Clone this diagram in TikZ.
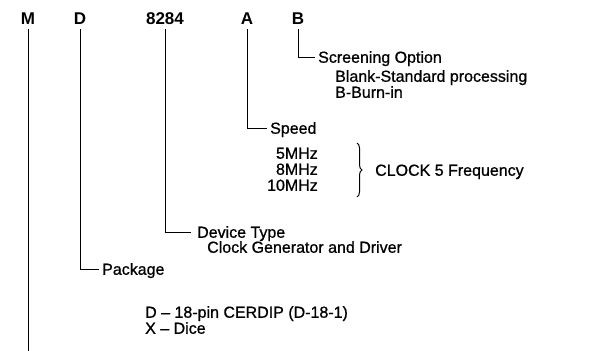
\documentclass[tikz,border=0pt]{standalone}
\usepackage{fontspec}
\setmainfont{Liberation Sans}
\newfontfamily\lblfont[FakeBold=0.8,Ligatures=TeX]{Liberation Sans}
\usetikzlibrary{decorations.pathreplacing}
\begin{document}
\begin{tikzpicture}[x=1pt,y=-1pt,
  code/.style={font=\fontsize{17}{17}\selectfont\bfseries, inner sep=0pt, text height=12pt, text depth=0pt},
  lbl/.style={font=\fontsize{16}{16}\selectfont\lblfont, inner sep=0pt, anchor=west, text height=11.5pt, text depth=0pt},
  lblr/.style={lbl, anchor=east},
  lead/.style={line width=1pt}]
\useasboundingbox[fill=white] (0,0) rectangle (590,351);
% code letters
\node[code] (M) at (28,18) {M};
\node[code] (D) at (80,18) {D};
\node[code] (N) at (165,18) {8284};
\node[code] (A) at (247,18) {A};
\node[code] (B) at (298,18) {B};
% labels
\node[lbl] (scr) at (318,57) {Screening Option};
\node[lbl] (blank) at (335,76) {Blank-Standard processing};
\node[lbl] (burn) at (335,92) {B-Burn-in};
\node[lbl] (spd) at (270,128) {Speed};
\node[lblr] (f5) at (318,153) {5MHz};
\node[lblr] (f8) at (318,169) {8MHz};
\node[lblr] (f10) at (318,185) {10MHz};
\node[lbl] (clk) at (375,170) {CLOCK 5 Frequency};
\node[lbl] (dev) at (197,232) {Device Type};
\node[lbl] (gen) at (207,247) {Clock Generator and Driver};
\node[lbl] (pkg) at (102,269) {Package};
\node[lbl] (cer) at (145,312) {D – 18-pin CERDIP (D-18-1)};
\node[lbl] (dice) at (145,328) {X – Dice};
\coordinate (mend) at (28,351);
\coordinate (brtop) at (357,143);
\coordinate (brbot) at (357,197);
% leaders
\draw[lead] ([yshift=-5pt]M.south) -- (M.south |- mend);
\draw[lead] ([yshift=-5pt]D.south) |- ([xshift=-3pt]pkg.west);
\draw[lead] ([yshift=-5pt]N.south) |- ([xshift=-6pt]dev.west);
\draw[lead] ([yshift=-5pt]A.south) |- ([xshift=-3pt]spd.west);
\draw[lead] ([yshift=-5pt]B.south) |- ([xshift=-3pt]scr.west);
\draw[lead, decorate, decoration={brace, amplitude=5pt}] (brtop) -- (brbot);
\end{tikzpicture}
\end{document}
